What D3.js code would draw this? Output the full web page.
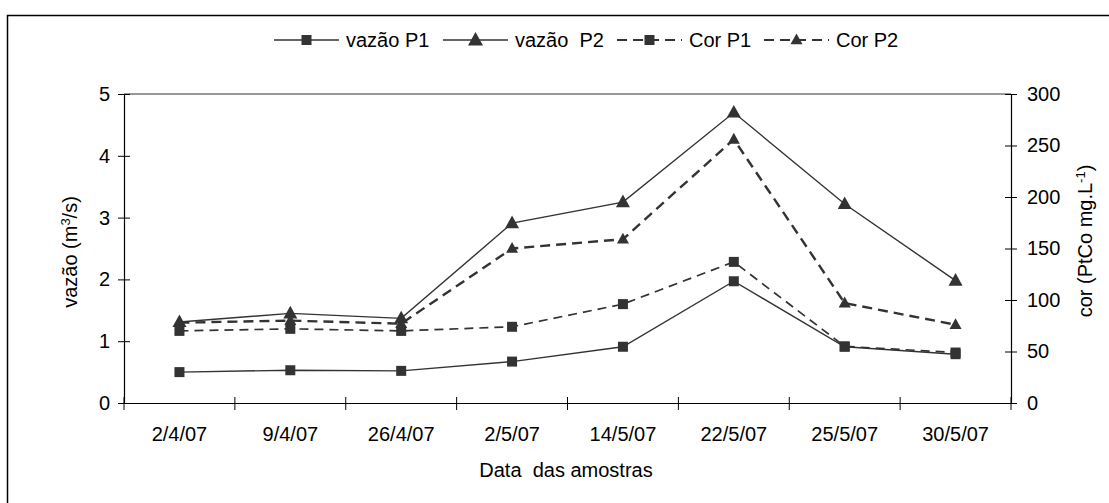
<!DOCTYPE html>
<html><head><meta charset="utf-8">
<script src="https://cdn.jsdelivr.net/npm/d3@7"></script>
<style>body{margin:0;background:#fff}svg{display:block;font-family:"Liberation Sans",Arial,sans-serif}</style>
</head><body><svg id="c" width="1109" height="503"></svg>
<script>
const categories = ["2/4/07","9/4/07","26/4/07","2/5/07","14/5/07","22/5/07","25/5/07","30/5/07"];
const vazaoP1 = [0.50,0.53,0.52,0.67,0.91,1.97,0.91,0.79];
const vazaoP2 = [1.31,1.45,1.37,2.91,3.25,4.70,3.22,1.98];
const corP1 = [70,72,70,74,96,137,55,49];
const corP2 = [78,80,77,150,159,256,97,76];
const leftTicks = [0,1,2,3,4,5];
const rightTicks = [0,50,100,150,200,250,300];

const svg = d3.select("#c");
const L=124,R=1011,T=94,B=403;
const x = d3.scaleBand().domain(categories).range([L,R]);
const yL = d3.scaleLinear().domain([0,5]).range([B,T]);
const yR = d3.scaleLinear().domain([0,300]).range([B,T]);
const ink="#333";
const fs=20;

// outer frame (only top & left visible)
svg.append("rect").attr("x",7.5).attr("y",15.5).attr("width",1200).attr("height",600)
  .attr("fill","none").attr("stroke","#000").attr("stroke-width",1.5);
// plot top border
svg.append("line").attr("x1",L).attr("x2",R).attr("y1",T).attr("y2",T).attr("stroke","#333").attr("stroke-width",1.2);

// axes
const gl = svg.append("g").attr("transform",`translate(${L},0)`)
  .call(d3.axisLeft(yL).tickValues(leftTicks).tickSize(6).tickPadding(8).tickFormat(d3.format("d")));
const gr = svg.append("g").attr("transform",`translate(${R},0)`)
  .call(d3.axisRight(yR).tickValues(rightTicks).tickSize(6).tickPadding(10).tickFormat(d3.format("d")));
const gb = svg.append("g").attr("transform",`translate(0,${B})`)
  .call(d3.axisBottom(x).tickSize(0).tickPadding(24));
[gl,gr,gb].forEach(g=>{
  g.select(".domain").attr("stroke","#000").attr("stroke-width",1.2);
  g.selectAll("text").attr("font-size",fs).attr("fill","#000").attr("font-family","Liberation Sans, Arial, sans-serif");
});
// cross ticks
gl.selectAll(".tick line").attr("x1",6).attr("x2",-6).attr("stroke","#000");
gr.selectAll(".tick line").attr("x1",-6).attr("x2",6).attr("stroke","#000");
const bounds = categories.map(c=>x(c)).concat([R]);
svg.append("g").selectAll("line").data(bounds).join("line")
  .attr("x1",d=>d).attr("x2",d=>d).attr("y1",B-6).attr("y2",B+7).attr("stroke","#000");

// axis titles
svg.append("text").attr("transform",`translate(77,252) rotate(-90)`).attr("text-anchor","middle")
  .attr("font-size",fs).html('vazão (m<tspan baseline-shift="super" font-size="13">3</tspan>/s)');
svg.append("text").attr("transform",`translate(1092,241) rotate(-90)`).attr("text-anchor","middle")
  .attr("font-size",fs).html('cor (PtCo mg.L<tspan baseline-shift="super" font-size="13">-1</tspan>)');
svg.append("text").attr("x",566).attr("y",477).attr("text-anchor","middle").attr("font-size",fs)
  .attr("xml:space","preserve").text("Data  das amostras");

const cx = c=>x(c)+x.bandwidth()/2;
const series = [
  {name:"vazão P1", vals:vazaoP1, y:yL, dash:null, w:1.4, marker:"square", ms:10, lms:10},
  {name:"vazão  P2", vals:vazaoP2, y:yL, dash:null, w:1.4, marker:"triangle", ms:14, lms:15},
  {name:"Cor P1", vals:corP1, y:yR, dash:"9,6", w:1.7, marker:"square", ms:10, lms:10},
  {name:"Cor P2", vals:corP2, y:yR, dash:"10,6", w:2.4, marker:"triangle", ms:12, lms:12}
];
function drawMarker(g, type, px, py, s){
  if(type==="square"){
    g.append("rect").attr("x",px-s/2).attr("y",py-s/2).attr("width",s).attr("height",s).attr("fill",ink);
  } else {
    const h=s*0.9;
    g.append("path").attr("d",`M${px},${py-h*0.6}L${px+s/2},${py+h*0.4}L${px-s/2},${py+h*0.4}Z`).attr("fill",ink);
  }
}
series.forEach(s=>{
  const line = d3.line().x((d,i)=>cx(categories[i])).y(d=>s.y(d));
  svg.append("path").attr("d",line(s.vals)).attr("fill","none").attr("stroke",ink)
    .attr("stroke-width",s.w).attr("stroke-dasharray",s.dash);
  const g=svg.append("g");
  s.vals.forEach((v,i)=>drawMarker(g,s.marker,cx(categories[i]),s.y(v),s.ms));
});

// legend
const legX=[274,443,617,764];
const legY=40;
series.forEach((s,i)=>{
  const g=svg.append("g");
  const x0=legX[i], x1=x0+65;
  g.append("line").attr("x1",x0).attr("x2",x1).attr("y1",legY).attr("y2",legY).attr("stroke",ink)
    .attr("stroke-width",s.dash?1.8:1.4).attr("stroke-dasharray",s.dash?"10,6":null);
  drawMarker(g,s.marker,(x0+x1)/2,legY,s.lms);
  g.append("text").attr("x",x1+7).attr("y",legY+7).attr("font-size",fs).attr("xml:space","preserve").text(s.name);
});
</script></body></html>
